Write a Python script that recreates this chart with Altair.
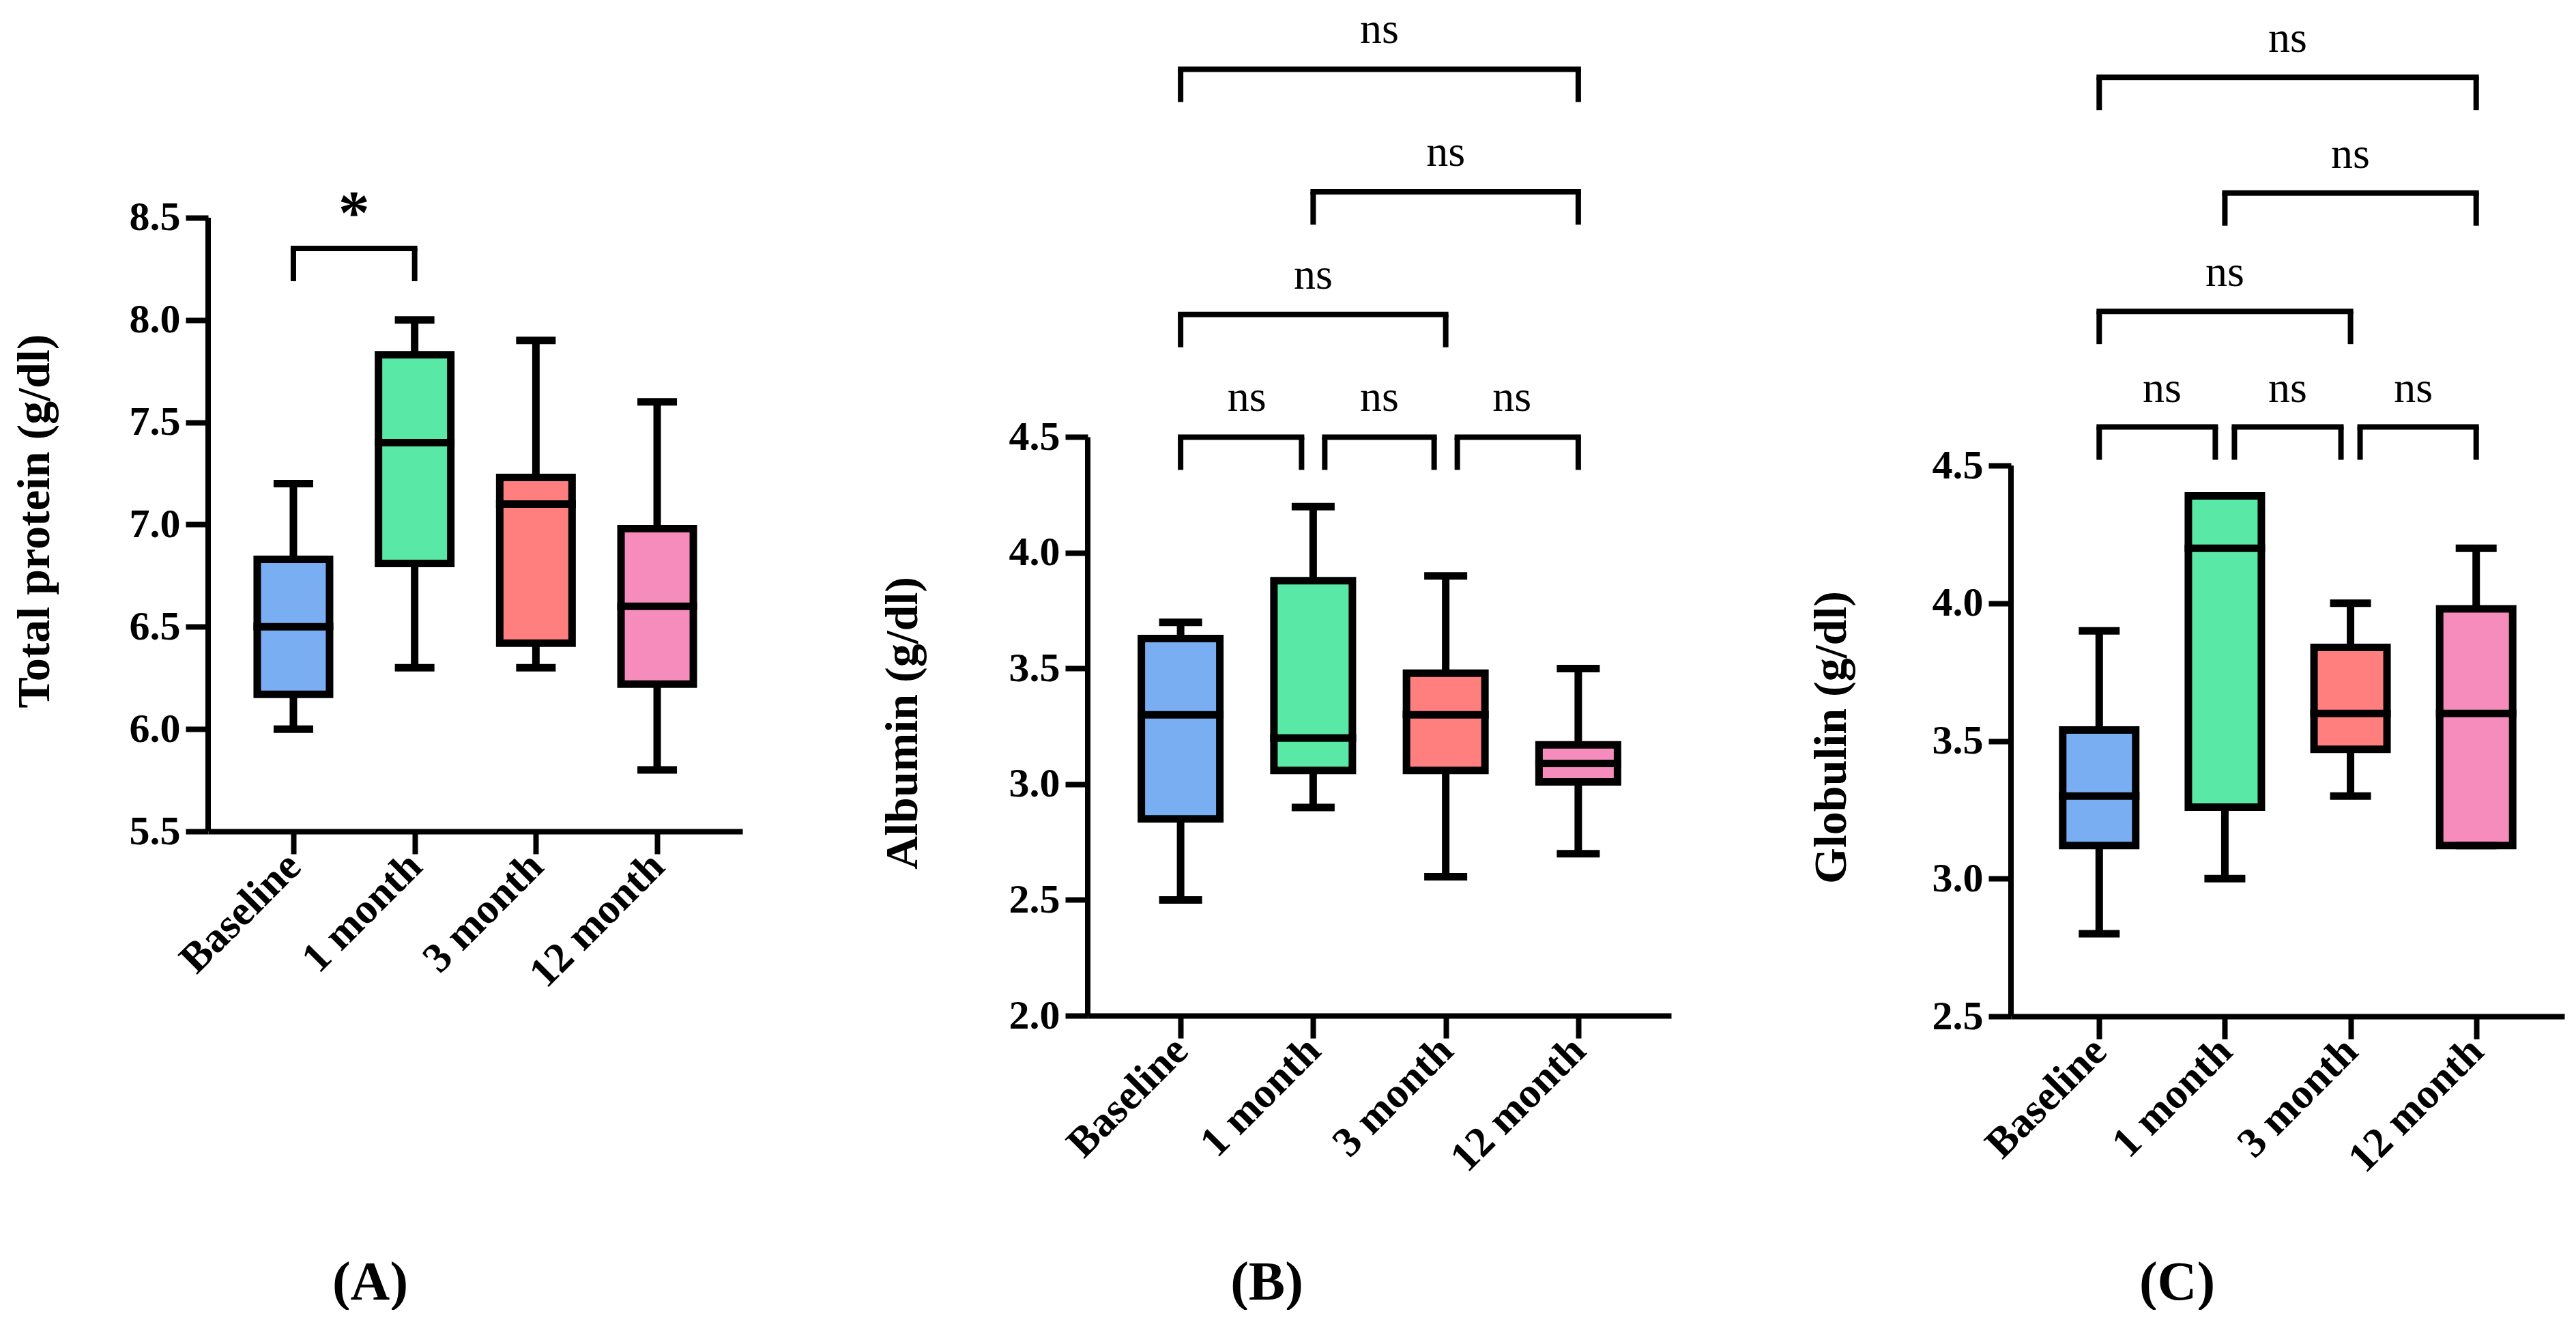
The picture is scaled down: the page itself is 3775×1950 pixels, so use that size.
import json
import altair as alt
import pandas as pd

# ---------------- data ----------------
categories = ["Baseline", "1 month", "3 month", "12 month"]
colors = ["#79AEF3", "#5AE8A6", "#FF7F7F", "#F68CBB"]

# (A) Total protein (g/dl)
tp_min = [6.0, 6.3, 6.3, 5.8]
tp_q1 = [6.17, 6.81, 6.42, 6.22]
tp_med = [6.5, 7.4, 7.1, 6.6]
tp_q3 = [6.83, 7.83, 7.23, 6.98]
tp_max = [7.2, 8.0, 7.9, 7.6]
tp_ticks = [5.5, 6.0, 6.5, 7.0, 7.5, 8.0, 8.5]
tp_brackets = [("Baseline", "1 month", 8.35, "*")]

# (B) Albumin (g/dl)
alb_min = [2.5, 2.9, 2.6, 2.7]
alb_q1 = [2.85, 3.06, 3.06, 3.01]
alb_med = [3.3, 3.2, 3.3, 3.09]
alb_q3 = [3.63, 3.88, 3.48, 3.17]
alb_max = [3.7, 4.2, 3.9, 3.5]
alb_ticks = [2.0, 2.5, 3.0, 3.5, 4.0, 4.5]
alb_brackets = [
    ("Baseline", "1 month", 4.50, "ns"),
    ("1 month", "3 month", 4.50, "ns"),
    ("3 month", "12 month", 4.50, "ns"),
    ("Baseline", "3 month", 5.03, "ns"),
    ("1 month", "12 month", 5.56, "ns"),
    ("Baseline", "12 month", 6.09, "ns"),
]

# (C) Globulin (g/dl)
glo_min = [2.8, 3.0, 3.3, 3.12]
glo_q1 = [3.12, 3.26, 3.47, 3.12]
glo_med = [3.3, 4.2, 3.6, 3.6]
glo_q3 = [3.54, 4.39, 3.84, 3.98]
glo_max = [3.9, 4.39, 4.0, 4.2]
glo_ticks = [2.5, 3.0, 3.5, 4.0, 4.5]
glo_brackets = [
    ("Baseline", "1 month", 4.64, "ns"),
    ("1 month", "3 month", 4.64, "ns"),
    ("3 month", "12 month", 4.64, "ns"),
    ("Baseline", "3 month", 5.06, "ns"),
    ("1 month", "12 month", 5.49, "ns"),
    ("Baseline", "12 month", 5.91, "ns"),
]

FONT = "Liberation Serif"


def bracket_frame(brackets):
    rows = []
    for a, b, lvl, lab in brackets:
        i, j = categories.index(a), categories.index(b)
        ls = int(any(categories.index(b2) == i and l2 == lvl for a2, b2, l2, _ in brackets))
        rs = int(any(categories.index(a2) == j and l2 == lvl for a2, b2, l2, _ in brackets))
        rows.append({"i": i, "j": j, "level": lvl, "label": lab, "ls": ls, "rs": rs})
    return pd.DataFrame(rows)


def panel(mins, q1s, meds, q3s, maxs, ticks, brackets, ytitle, xtitle,
          width, height, ytop, ytitle_x, ytitle_y, xtitle_x, xtitle_y,
          boxw, capw, gap, sig_size, sig_weight, sig_dy, sig_baseline):
    df = pd.DataFrame({
        "idx": list(range(len(categories))),
        "cat": categories,
        "min": mins, "q1": q1s, "med": meds, "q3": q3s, "max": maxs,
    })
    bdf = bracket_frame(brackets)
    label_expr = json.dumps(categories) + "[datum.value]"
    xscale = alt.Scale(domain=[-0.675, len(categories) - 0.325], nice=False, zero=False)
    yscale = alt.Scale(domain=[ticks[0], ytop], nice=False, zero=False)
    xaxis = alt.Axis(
        values=list(range(len(categories))), labelExpr=label_expr, labelLimit=0,
        labelOverlap=False,
        labelAngle=-45, labelAlign="right", labelBaseline="middle", labelPadding=8,
        labelFont=FONT, labelFontSize=62, labelFontWeight="bold", labelColor="black",
        tickSize=33, tickWidth=8, tickColor="black",
        domainWidth=8, domainColor="black", grid=False,
        title=xtitle, titleFont=FONT, titleFontSize=80, titleFontWeight="bold",
        titleColor="black", titleX=xtitle_x, titleY=xtitle_y,
        titleAlign="center", titleBaseline="middle",
    )
    yaxis = alt.Axis(
        values=ticks, format=".1f", domain=False, labelOverlap=False,
        labelFont=FONT, labelFontSize=60, labelFontWeight="bold", labelColor="black",
        labelPadding=8, tickSize=33, tickWidth=8, tickColor="black", grid=False,
        title=ytitle, titleFont=FONT, titleFontSize=68, titleFontWeight="bold",
        titleColor="black", titleX=ytitle_x, titleY=ytitle_y,
        titleAlign="center", titleBaseline="middle", titleAngle=-90,
    )

    def X(f):
        return alt.X(f"{f}:Q", scale=xscale, axis=xaxis)

    def Y(f):
        return alt.Y(f"{f}:Q", scale=yscale, axis=yaxis)

    base = alt.Chart(df)
    color = alt.Color("cat:N", scale=alt.Scale(domain=categories, range=colors), legend=None)

    low_whisker = base.mark_rule(color="black", strokeWidth=11).encode(x=X("idx"), y=Y("min"), y2="q1")
    up_whisker = base.mark_rule(color="black", strokeWidth=11).encode(x=X("idx"), y=Y("q3"), y2="max")
    box = base.mark_bar(width=boxw, stroke="black", strokeWidth=11, opacity=1).encode(
        x=X("idx"), y=Y("q1"), y2="q3", color=color)
    median = base.mark_tick(orient="horizontal", size=boxw + 11, thickness=11, color="black", opacity=1).encode(
        x=X("idx"), y=Y("med"))
    cap_lo = base.mark_tick(orient="horizontal", size=capw, thickness=11, color="black", opacity=1).encode(
        x=X("idx"), y=Y("min"))
    cap_hi = base.mark_tick(orient="horizontal", size=capw, thickness=11, color="black", opacity=1).encode(
        x=X("idx"), y=Y("max"))

    yline = alt.Chart(pd.DataFrame({"lo": [ticks[0]], "hi": [ticks[-1]]})).mark_rule(
        color="black", strokeWidth=8).encode(x=alt.value(0), y=Y("lo"), y2="hi")

    bb = alt.Chart(bdf)
    hline = bb.mark_rule(color="black", strokeWidth=8, strokeCap="square",
                         xOffset={"expr": f"datum.ls*{gap}"},
                         x2Offset={"expr": f"-datum.rs*{gap}"}).encode(
        x=X("i"), x2="j", y=Y("level"))
    lleg = bb.mark_rule(color="black", strokeWidth=8, y2Offset=48,
                        xOffset={"expr": f"datum.ls*{gap}"}).encode(
        x=X("i"), y=Y("level"), y2="level")
    rleg = bb.mark_rule(color="black", strokeWidth=8, y2Offset=48,
                        xOffset={"expr": f"-datum.rs*{gap}"}).encode(
        x=X("j"), y=Y("level"), y2="level")
    sig = bb.transform_calculate(mid="(datum.i + datum.j) / 2").mark_text(
        font=FONT, fontSize=sig_size, fontWeight=sig_weight, color="black",
        baseline=sig_baseline, yOffset=sig_dy).encode(
        x=X("mid"), y=Y("level"), text="label:N")

    return alt.layer(low_whisker, up_whisker, box, median, cap_lo, cap_hi,
                     yline, hline, lleg, rleg, sig).properties(width=width, height=height)


pA = panel(tp_min, tp_q1, tp_med, tp_q3, tp_max, tp_ticks, tp_brackets,
           "Total protein (g/dl)", "(A)", width=783, height=1202, ytop=9.511,
           ytitle_x=-254, ytitle_y=747, xtitle_x=237, xtitle_y=661,
           boxw=106, capw=58, gap=0, sig_size=92, sig_weight="bold", sig_dy=-22,
           sig_baseline="alphabetic")
pB = panel(alb_min, alb_q1, alb_med, alb_q3, alb_max, alb_ticks, alb_brackets,
           "Albumin (g/dl)", "(B)", width=855, height=1472, ytop=6.342,
           ytitle_x=-271, ytitle_y=1043, xtitle_x=262, xtitle_y=391,
           boxw=115, capw=63, gap=17, sig_size=64, sig_weight="normal", sig_dy=-57,
           sig_baseline="middle")
pC = panel(glo_min, glo_q1, glo_med, glo_q3, glo_max, glo_ticks, glo_brackets,
           "Globulin (g/dl)", "(C)", width=811, height=1473, ytop=6.151,
           ytitle_x=-263, ytitle_y=1064, xtitle_x=243, xtitle_y=390,
           boxw=107, capw=60, gap=14, sig_size=64, sig_weight="normal", sig_dy=-56,
           sig_baseline="middle")

chart = alt.hconcat(pA, pB, pC, spacing=201).properties(
    padding={"left": 9, "top": 4, "right": 5, "bottom": 0},
    background="white",
).configure_view(stroke=None)

chart.save("out.html", embed_options={"renderer": "svg", "actions": False})
